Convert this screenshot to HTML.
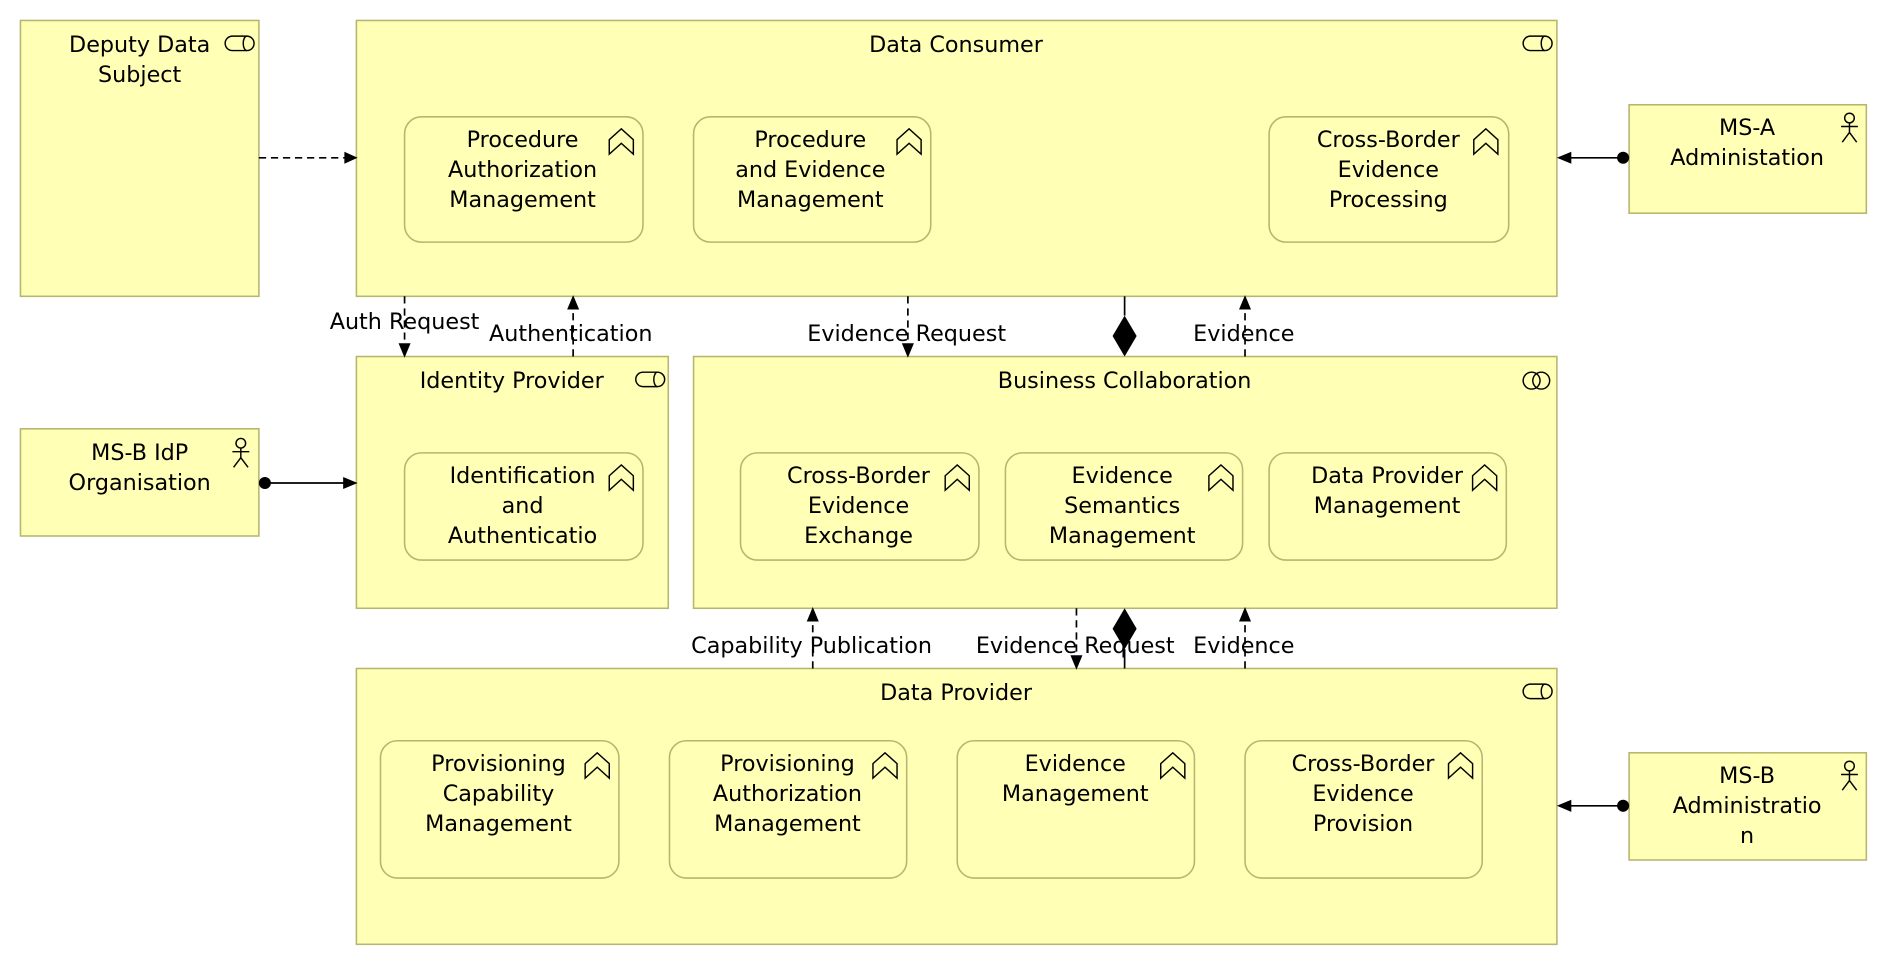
<!DOCTYPE html>
<html><head><meta charset="utf-8"><style>
html,body{margin:0;padding:0;background:#fff;width:1888px;height:966px;overflow:hidden}
svg{display:block}
text{font-family:"DejaVu Sans","Liberation Sans",sans-serif;font-size:18.5px;fill:#000}
.b{fill:#ffffb5;stroke:#b6b66e;stroke-width:1.3}
.r{fill:#ffffb5;stroke:#b6b66e;stroke-width:1.3}
.l{stroke:#000;stroke-width:1.4;fill:none}
.d{stroke:#000;stroke-width:1.4;fill:none;stroke-dasharray:6,4}
</style></head><body>
<svg width="1888" height="966" viewBox="0 0 1568 802" preserveAspectRatio="none">
<defs>
<g id="svc"><rect x="-12" y="-6" width="24" height="12" rx="6" fill="none" stroke="#000" stroke-width="1.2"/><path d="M6,-6 A3,6 0 0 0 6,6" fill="none" stroke="#000" stroke-width="1.2"/></g>
<g id="fn"><path d="M-10,-2 L0,-11 L10,-2 L10,10 L0,1 L-10,10 Z" fill="none" stroke="#000" stroke-width="1.2"/></g>
<g id="act"><circle cx="0" cy="-8" r="4" fill="none" stroke="#000" stroke-width="1.2"/><path d="M0,-4 V4 M-7,-1 H7 M0,4 L-6,12 M0,4 L6,12" stroke="#000" stroke-width="1.2" fill="none"/></g>
<g id="col"><circle cx="-4" cy="0" r="7" fill="none" stroke="#000" stroke-width="1.2"/><circle cx="4" cy="0" r="7" fill="none" stroke="#000" stroke-width="1.2"/></g>
</defs>
<rect class="b" x="17" y="17" width="198" height="229"/>
<use href="#svc" x="199" y="36"/>
<text x="116" y="43" text-anchor="middle">Deputy Data</text><text x="116" y="68" text-anchor="middle">Subject</text>

<rect class="b" x="296" y="17" width="997" height="229"/>
<use href="#svc" x="1277" y="36"/>
<text x="794" y="43" text-anchor="middle">Data Consumer</text>

<rect class="b" x="1353" y="87" width="197" height="90"/>
<use href="#act" x="1536" y="106"/>
<text x="1451" y="112" text-anchor="middle">MS-A</text><text x="1451" y="137" text-anchor="middle">Administation</text>

<rect class="b" x="296" y="296" width="259" height="209"/>
<use href="#svc" x="540" y="315"/>
<text x="425" y="322" text-anchor="middle">Identity Provider</text>

<rect class="b" x="576" y="296" width="717" height="209"/>
<use href="#col" x="1276" y="316"/>
<text x="934" y="322" text-anchor="middle">Business Collaboration</text>

<rect class="b" x="17" y="356" width="198" height="89"/>
<use href="#act" x="200" y="376"/>
<text x="116" y="382" text-anchor="middle">MS-B IdP</text><text x="116" y="407" text-anchor="middle">Organisation</text>

<rect class="b" x="296" y="555" width="997" height="229"/>
<use href="#svc" x="1277" y="574"/>
<text x="794" y="581" text-anchor="middle">Data Provider</text>

<rect class="b" x="1353" y="625" width="197" height="89"/>
<use href="#act" x="1536" y="644"/>
<text x="1451" y="650" text-anchor="middle">MS-B</text><text x="1451" y="675" text-anchor="middle">Administratio</text><text x="1451" y="700" text-anchor="middle">n</text>

<g>
<rect class="r" x="336" y="97" width="198" height="104" rx="14"/><use href="#fn" x="516" y="118"/>
<text x="434" y="122" text-anchor="middle">Procedure</text><text x="434" y="147" text-anchor="middle">Authorization</text><text x="434" y="172" text-anchor="middle">Management</text>
<rect class="r" x="576" y="97" width="197" height="104" rx="14"/><use href="#fn" x="755" y="118"/>
<text x="673" y="122" text-anchor="middle">Procedure</text><text x="673" y="147" text-anchor="middle">and Evidence</text><text x="673" y="172" text-anchor="middle">Management</text>
<rect class="r" x="1054" y="97" width="199" height="104" rx="14"/><use href="#fn" x="1234" y="118"/>
<text x="1153" y="122" text-anchor="middle">Cross-Border</text><text x="1153" y="147" text-anchor="middle">Evidence</text><text x="1153" y="172" text-anchor="middle">Processing</text>

<rect class="r" x="336" y="376" width="198" height="89" rx="14"/><use href="#fn" x="516" y="397"/>
<text x="434" y="401" text-anchor="middle">Identification</text><text x="434" y="426" text-anchor="middle">and</text><text x="434" y="451" text-anchor="middle">Authenticatio</text>
<rect class="r" x="615" y="376" width="198" height="89" rx="14"/><use href="#fn" x="795" y="397"/>
<text x="713" y="401" text-anchor="middle">Cross-Border</text><text x="713" y="426" text-anchor="middle">Evidence</text><text x="713" y="451" text-anchor="middle">Exchange</text>
<rect class="r" x="835" y="376" width="197" height="89" rx="14"/><use href="#fn" x="1014" y="397"/>
<text x="932" y="401" text-anchor="middle">Evidence</text><text x="932" y="426" text-anchor="middle">Semantics</text><text x="932" y="451" text-anchor="middle">Management</text>
<rect class="r" x="1054" y="376" width="197" height="89" rx="14"/><use href="#fn" x="1233" y="397"/>
<text x="1152" y="401" text-anchor="middle">Data Provider</text><text x="1152" y="426" text-anchor="middle">Management</text>

<rect class="r" x="316" y="615" width="198" height="114" rx="14"/><use href="#fn" x="496" y="636"/>
<text x="414" y="640" text-anchor="middle">Provisioning</text><text x="414" y="665" text-anchor="middle">Capability</text><text x="414" y="690" text-anchor="middle">Management</text>
<rect class="r" x="556" y="615" width="197" height="114" rx="14"/><use href="#fn" x="735" y="636"/>
<text x="654" y="640" text-anchor="middle">Provisioning</text><text x="654" y="665" text-anchor="middle">Authorization</text><text x="654" y="690" text-anchor="middle">Management</text>
<rect class="r" x="795" y="615" width="197" height="114" rx="14"/><use href="#fn" x="974" y="636"/>
<text x="893" y="640" text-anchor="middle">Evidence</text><text x="893" y="665" text-anchor="middle">Management</text>
<rect class="r" x="1034" y="615" width="197" height="114" rx="14"/><use href="#fn" x="1213" y="636"/>
<text x="1132" y="640" text-anchor="middle">Cross-Border</text><text x="1132" y="665" text-anchor="middle">Evidence</text><text x="1132" y="690" text-anchor="middle">Provision</text>
</g>

<line class="d" x1="215" y1="131" x2="288" y2="131"/><path d="M286,126 L297,131 L286,136 Z"/>
<line class="l" x1="1348" y1="131" x2="1300" y2="131"/><circle cx="1348" cy="131" r="5"/><path d="M1305,126 L1293,131 L1305,136 Z"/>
<line class="l" x1="220" y1="401" x2="288" y2="401"/><circle cx="220" cy="401" r="5"/><path d="M285,396 L297,401 L285,406 Z"/>
<line class="l" x1="1348" y1="669" x2="1300" y2="669"/><circle cx="1348" cy="669" r="5"/><path d="M1305,664 L1293,669 L1305,674 Z"/>

<line class="d" x1="336" y1="246" x2="336" y2="288"/><path d="M331,285 L336,297 L341,285 Z"/>
<line class="d" x1="476" y1="296" x2="476" y2="254"/><path d="M471,257 L476,245 L481,257 Z"/>
<line class="d" x1="754" y1="246" x2="754" y2="288"/><path d="M749,285 L754,297 L759,285 Z"/>
<line class="l" x1="934" y1="246" x2="934" y2="262"/><path d="M934,262 L944,279 L934,296 L924,279 Z"/>
<line class="d" x1="1034" y1="296" x2="1034" y2="254"/><path d="M1029,257 L1034,245 L1039,257 Z"/>

<line class="d" x1="675" y1="555" x2="675" y2="513"/><path d="M670,516 L675,504 L680,516 Z"/>
<line class="d" x1="894" y1="505" x2="894" y2="547"/><path d="M889,544 L894,556 L899,544 Z"/>
<line class="l" x1="934" y1="539" x2="934" y2="555"/><path d="M934,505 L944,522 L934,539 L924,522 Z"/>
<line class="d" x1="1034" y1="555" x2="1034" y2="513"/><path d="M1029,516 L1034,504 L1039,516 Z"/>

<text x="336" y="273" text-anchor="middle">Auth Request</text>
<text x="474" y="283" text-anchor="middle">Authentication</text>
<text x="753" y="283" text-anchor="middle">Evidence Request</text>
<text x="1033" y="283" text-anchor="middle">Evidence</text>
<text x="674" y="542" text-anchor="middle">Capability Publication</text>
<text x="893" y="542" text-anchor="middle">Evidence Request</text>
<text x="1033" y="542" text-anchor="middle">Evidence</text>
</svg>
</body></html>
